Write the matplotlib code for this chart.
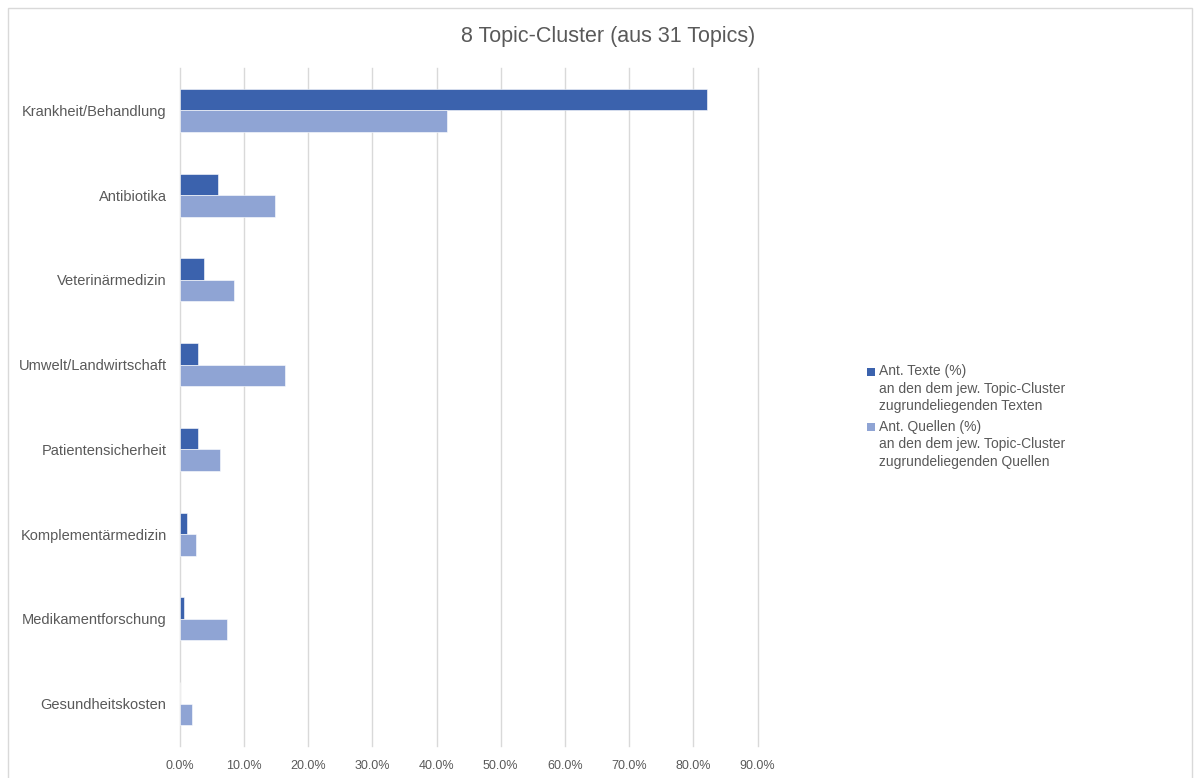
import numpy as np
import matplotlib.pyplot as plt
from matplotlib.patches import Patch, Rectangle
from matplotlib.legend_handler import HandlerBase
from matplotlib.ticker import PercentFormatter

plt.rcParams['font.family'] = ['Liberation Sans', 'DejaVu Sans']

'''Data (read off the reference)'''
categories = ["Krankheit/Behandlung", "Antibiotika", "Veterinärmedizin",
              "Umwelt/Landwirtschaft", "Patientensicherheit",
              "Komplementärmedizin", "Medikamentforschung", "Gesundheitskosten"]
ant_texte = [82.1, 6.0, 3.8, 2.9, 2.9, 1.1, 0.6, 0.0]
ant_quellen = [41.6, 14.8, 8.5, 16.4, 6.2, 2.5, 7.3, 1.9]
x_ticks = np.arange(0, 91, 10)
label_texte = "Ant. Texte (%)\nan den dem jew. Topic-Cluster\nzugrundeliegenden Texten"
label_quellen = "Ant. Quellen (%)\nan den dem jew. Topic-Cluster\nzugrundeliegenden Quellen"

dark_blue = "#3B62AD"
light_blue = "#8FA4D4"
text_grey = "#595959"
grid_grey = "#D9D9D9"


class TopSquare(HandlerBase):
    '''legend marker next to the first line of a multi-line label, like Excel does'''
    def create_artists(self, legend, orig_handle, xdescent, ydescent,
                       width, height, fontsize, trans):
        s = 0.55 * fontsize
        p = Rectangle((-xdescent, -ydescent + height - s + 0.33 * fontsize), s, s,
                      facecolor=orig_handle.get_facecolor(), edgecolor="none",
                      transform=trans)
        return [p]


def main():
    fig = plt.figure(figsize=(12, 7.78), dpi=100)
    ax = fig.add_axes([0.1498, 0.0411, 0.4815, 0.8715])

    y = np.arange(len(categories))
    h = 0.254
    ax.barh(y - h / 2, ant_texte, height=h, color=dark_blue, edgecolor="white", linewidth=0.4, zorder=3)
    ax.barh(y + h / 2, ant_quellen, height=h, color=light_blue, edgecolor="white", linewidth=0.4, zorder=3)

    ax.set_ylim(len(categories) - 0.5, -0.5)
    ax.set_xlim(0, 90)
    ax.set_xticks(x_ticks)
    ax.xaxis.set_major_formatter(PercentFormatter(decimals=1))
    ax.set_yticks(y)
    ax.set_yticklabels(categories)
    ax.tick_params(axis="y", length=0, pad=9.5, labelsize=10.5, labelcolor=text_grey)
    ax.tick_params(axis="x", length=0, pad=10, labelsize=9, labelcolor=text_grey)
    for xv in x_ticks:
        ax.axvline(xv, color=grid_grey, linewidth=1, zorder=0, clip_on=False)
    for s in ax.spines.values():
        s.set_visible(False)

    fig.text(0.507, 0.953, "8 Topic-Cluster (aus 31 Topics)", ha="center", va="center",
             fontsize=15.5, color=text_grey)

    handles = [Patch(facecolor=dark_blue), Patch(facecolor=light_blue)]
    leg = fig.legend(handles, [label_texte, label_quellen], loc="upper left",
                     bbox_to_anchor=(0.712, 0.548), frameon=False, fontsize=10,
                     labelcolor=text_grey, handlelength=0.55, handleheight=3.6,
                     handletextpad=0.35, labelspacing=0.45,
                     handler_map={Patch: TopSquare()})
    for t in leg.get_texts():
        t.set_linespacing(1.33)

    # light chart border like the spreadsheet export
    fig.patches.append(Rectangle((8 / 1200, -0.01), 1184 / 1200, 1 - 8 / 778 + 0.01,
                                 transform=fig.transFigure, fill=False,
                                 edgecolor=grid_grey, linewidth=1))

    plt.savefig("out.png", dpi=100)


if __name__ == '__main__':
    main()
